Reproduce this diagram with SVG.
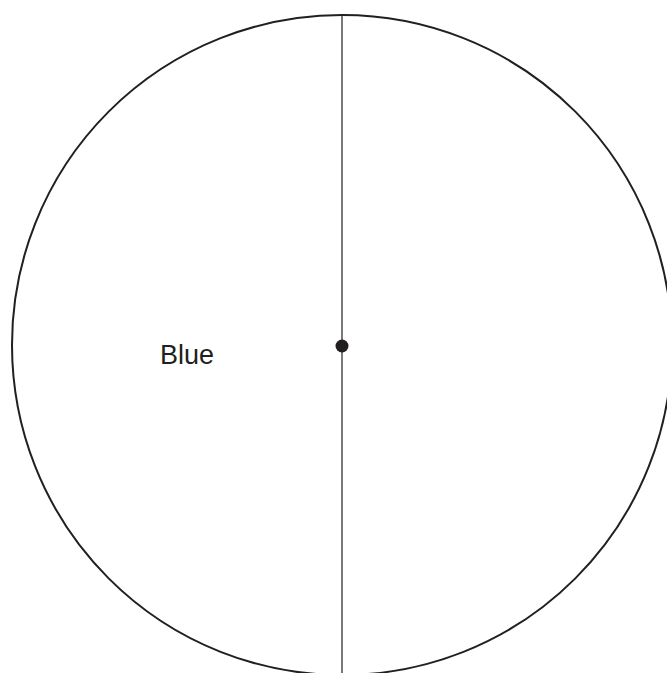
<svg xmlns="http://www.w3.org/2000/svg" width="667" height="673" viewBox="0 0 667 673">
<style>
.outline{fill:none;stroke:#231f20;stroke-width:2}
.line{stroke:#231f20;stroke-width:1.2}
.lbl{font-family:"Liberation Sans",Arial,sans-serif;font-size:27px;fill:#231f20}
</style>
<rect width="667" height="673" fill="#fff"/>
<g id="circle"><circle class="outline" cx="342" cy="345" r="330"/></g>
<g id="connectors"><line class="line" x1="342" y1="15" x2="342" y2="673"/></g>
<g id="center"><circle cx="342" cy="346" r="6.5" fill="#231f20"/></g>
<g id="label"><text class="lbl" x="160" y="364">Blue</text></g>
</svg>
